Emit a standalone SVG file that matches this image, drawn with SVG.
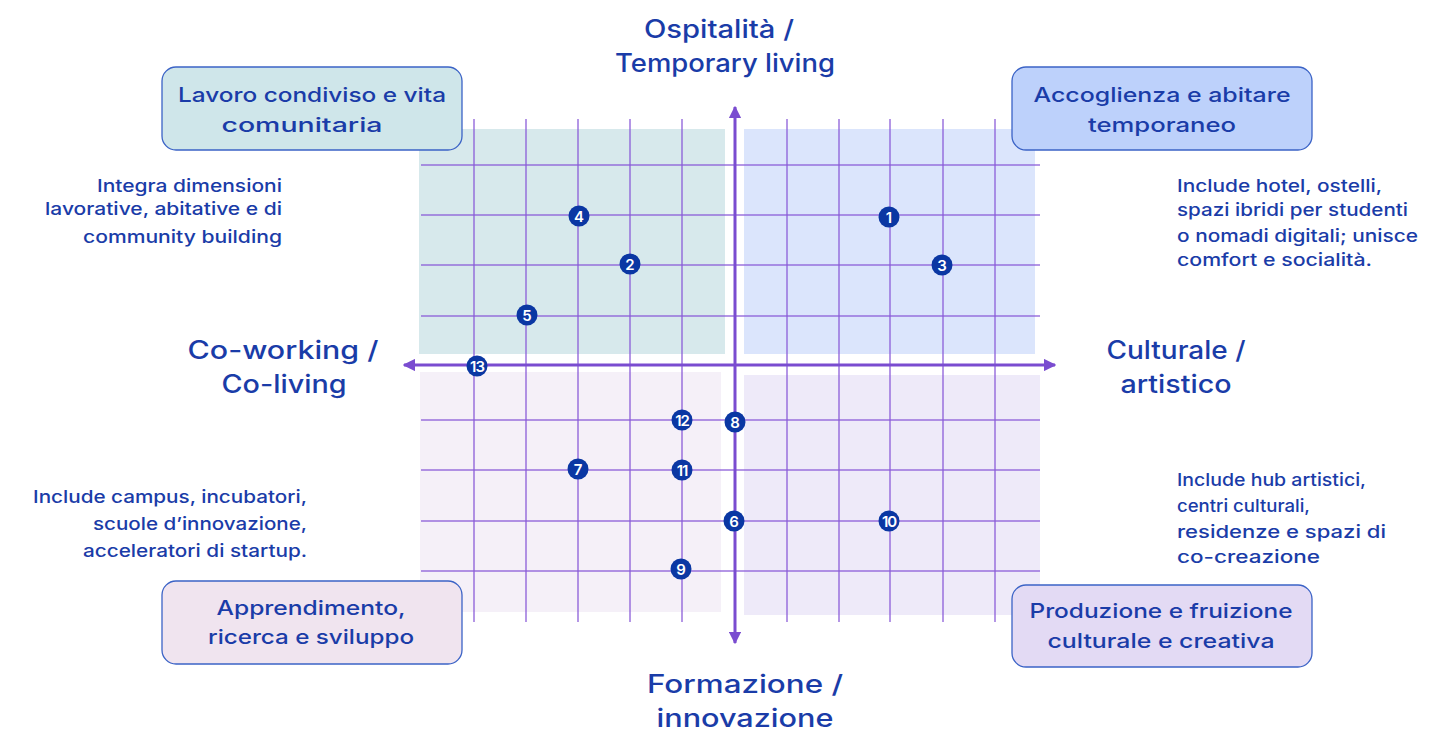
<svg xmlns="http://www.w3.org/2000/svg" width="1445" height="731" viewBox="0 0 1445 731">
  <defs>
    <style>
      text { font-family: Inter, "Noto Sans", "Liberation Sans", sans-serif; fill: #1a3ca8; font-weight: 500; }
      .axis-label { font-size: 25px; text-anchor: middle; }
      .box-label { font-size: 20px; text-anchor: middle; }
      .note { font-size: 17.5px; }
      .note-r { text-anchor: end; }
      .grid line { stroke: #8a5bd8; stroke-width: 1.5; opacity: 0.85; }
      .axis { stroke: #7a4cd0; stroke-width: 3; fill: none; }
      .box { stroke: #3b63c6; stroke-width: 1.3; }
      .dot circle { fill: #0a37a3; }
      .dot text { fill: #ffffff; font-size: 15px; text-anchor: middle; font-weight: 600; }
    </style>
    <marker id="arrow" viewBox="0 0 10 10" refX="9" refY="5" markerWidth="4.2" markerHeight="4.2" orient="auto">
      <path d="M0,0 L10,5 L0,10 z" fill="#7a4cd0"/>
    </marker>
  </defs>

  <rect width="1445" height="731" fill="#ffffff"/>

  <!-- quadrant backgrounds -->
  <g id="quadrants">
    <rect x="419" y="129" width="306" height="225" fill="#d7e9ec"/>
    <rect x="744" y="129" width="291" height="225" fill="#dbe5fc"/>
    <rect x="420" y="372" width="301" height="240" fill="#f5f0f8"/>
    <rect x="744" y="375" width="296" height="240" fill="#eeeaf9"/>
  </g>

  <!-- grid -->
  <g class="grid">
    <line x1="474" y1="119" x2="474" y2="622"/>
    <line x1="526" y1="119" x2="526" y2="622"/>
    <line x1="578" y1="119" x2="578" y2="622"/>
    <line x1="630" y1="119" x2="630" y2="622"/>
    <line x1="682" y1="119" x2="682" y2="622"/>
    <line x1="787" y1="119" x2="787" y2="622"/>
    <line x1="839" y1="119" x2="839" y2="622"/>
    <line x1="890" y1="119" x2="890" y2="622"/>
    <line x1="943" y1="119" x2="943" y2="622"/>
    <line x1="995" y1="119" x2="995" y2="622"/>
    <line x1="421" y1="165" x2="1040" y2="165"/>
    <line x1="421" y1="215" x2="1040" y2="215"/>
    <line x1="421" y1="265" x2="1040" y2="265"/>
    <line x1="421" y1="316" x2="1040" y2="316"/>
    <line x1="421" y1="420" x2="1040" y2="420"/>
    <line x1="421" y1="470" x2="1040" y2="470"/>
    <line x1="421" y1="521" x2="1040" y2="521"/>
    <line x1="421" y1="571" x2="1040" y2="571"/>
  </g>

  <!-- axes -->
  <g id="connectors">
    <line class="axis" x1="735" y1="365" x2="735" y2="107" marker-end="url(#arrow)"/>
    <line class="axis" x1="735" y1="365" x2="735" y2="643" marker-end="url(#arrow)"/>
    <line class="axis" x1="735" y1="365" x2="404" y2="365" marker-end="url(#arrow)"/>
    <line class="axis" x1="735" y1="365" x2="1055" y2="365" marker-end="url(#arrow)"/>
  </g>

  <!-- axis labels -->
  <g id="axis-top">
    <text class="axis-label" x="719" y="38" textLength="150" lengthAdjust="spacingAndGlyphs">Ospitalità /</text>
    <text class="axis-label" x="725" y="72" textLength="220" lengthAdjust="spacingAndGlyphs">Temporary living</text>
  </g>
  <g id="axis-bottom">
    <text class="axis-label" x="745" y="693" textLength="196" lengthAdjust="spacingAndGlyphs">Formazione /</text>
    <text class="axis-label" x="745" y="727" textLength="177" lengthAdjust="spacingAndGlyphs">innovazione</text>
  </g>
  <g id="axis-left">
    <text class="axis-label" x="283" y="359" textLength="191" lengthAdjust="spacingAndGlyphs">Co-working /</text>
    <text class="axis-label" x="284" y="393" textLength="125" lengthAdjust="spacingAndGlyphs">Co-living</text>
  </g>
  <g id="axis-right">
    <text class="axis-label" x="1176" y="359" textLength="139" lengthAdjust="spacingAndGlyphs">Culturale /</text>
    <text class="axis-label" x="1176" y="393" textLength="111" lengthAdjust="spacingAndGlyphs">artistico</text>
  </g>

  <!-- quadrant title boxes -->
  <g id="box-tl">
    <rect class="box" x="162" y="67" width="300" height="83" rx="14" fill="#cfe6ea"/>
    <text class="box-label" x="312" y="102" textLength="268" lengthAdjust="spacingAndGlyphs">Lavoro condiviso e vita</text>
    <text class="box-label" x="302" y="132" textLength="161" lengthAdjust="spacingAndGlyphs">comunitaria</text>
  </g>
  <g id="box-tr">
    <rect class="box" x="1012" y="67" width="300" height="83" rx="14" fill="#bdd1fb"/>
    <text class="box-label" x="1162" y="102" textLength="257" lengthAdjust="spacingAndGlyphs">Accoglienza e abitare</text>
    <text class="box-label" x="1162" y="132" textLength="148" lengthAdjust="spacingAndGlyphs">temporaneo</text>
  </g>
  <g id="box-bl">
    <rect class="box" x="162" y="581" width="300" height="83" rx="14" fill="#f0e4ef"/>
    <text class="box-label" x="311" y="615" textLength="189" lengthAdjust="spacingAndGlyphs">Apprendimento,</text>
    <text class="box-label" x="311" y="644" textLength="206" lengthAdjust="spacingAndGlyphs">ricerca e sviluppo</text>
  </g>
  <g id="box-br">
    <rect class="box" x="1012" y="585" width="300" height="82" rx="14" fill="#e3daf4"/>
    <text class="box-label" x="1161" y="618" textLength="263" lengthAdjust="spacingAndGlyphs">Produzione e fruizione</text>
    <text class="box-label" x="1161" y="648" textLength="227" lengthAdjust="spacingAndGlyphs">culturale e creativa</text>
  </g>

  <!-- descriptions -->
  <g id="note-tl">
    <text class="note note-r" x="282" y="192" textLength="185" lengthAdjust="spacingAndGlyphs">Integra dimensioni</text>
    <text class="note note-r" x="282" y="215" textLength="237" lengthAdjust="spacingAndGlyphs">lavorative, abitative e di</text>
    <text class="note note-r" x="282" y="243" textLength="199" lengthAdjust="spacingAndGlyphs">community building</text>
  </g>
  <g id="note-tr">
    <text class="note" x="1177" y="192" textLength="205" lengthAdjust="spacingAndGlyphs">Include hotel, ostelli,</text>
    <text class="note" x="1177" y="216" textLength="231" lengthAdjust="spacingAndGlyphs">spazi ibridi per studenti</text>
    <text class="note" x="1177" y="242" textLength="241" lengthAdjust="spacingAndGlyphs">o nomadi digitali; unisce</text>
    <text class="note" x="1177" y="266" textLength="195" lengthAdjust="spacingAndGlyphs">comfort e socialità.</text>
  </g>
  <g id="note-bl">
    <text class="note note-r" x="307" y="503" textLength="274" lengthAdjust="spacingAndGlyphs">Include campus, incubatori,</text>
    <text class="note note-r" x="307" y="530" textLength="214" lengthAdjust="spacingAndGlyphs">scuole d’innovazione,</text>
    <text class="note note-r" x="307" y="557" textLength="224" lengthAdjust="spacingAndGlyphs">acceleratori di startup.</text>
  </g>
  <g id="note-br">
    <text class="note" x="1177" y="486" textLength="189" lengthAdjust="spacingAndGlyphs">Include hub artistici,</text>
    <text class="note" x="1177" y="512" textLength="133" lengthAdjust="spacingAndGlyphs">centri culturali,</text>
    <text class="note" x="1177" y="538" textLength="209" lengthAdjust="spacingAndGlyphs">residenze e spazi di</text>
    <text class="note" x="1177" y="563" textLength="143" lengthAdjust="spacingAndGlyphs">co-creazione</text>
  </g>

  <!-- numbered points -->
  <g id="p1" class="dot"><circle cx="889" cy="217" r="10.5"/><text x="889" y="222.5">1</text></g>
  <g id="p2" class="dot"><circle cx="630" cy="264" r="10.5"/><text x="630" y="269.5">2</text></g>
  <g id="p3" class="dot"><circle cx="942" cy="265" r="10.5"/><text x="942" y="270.5">3</text></g>
  <g id="p4" class="dot"><circle cx="579" cy="216" r="10.5"/><text x="579" y="221.5">4</text></g>
  <g id="p5" class="dot"><circle cx="527" cy="315" r="10.5"/><text x="527" y="320.5">5</text></g>
  <g id="p6" class="dot"><circle cx="734" cy="521" r="10.5"/><text x="734" y="526.5">6</text></g>
  <g id="p7" class="dot"><circle cx="578" cy="469" r="10.5"/><text x="578" y="474.5">7</text></g>
  <g id="p8" class="dot"><circle cx="735" cy="422" r="10.5"/><text x="735" y="427.5">8</text></g>
  <g id="p9" class="dot"><circle cx="681" cy="569" r="10.5"/><text x="681" y="574.5">9</text></g>
  <g id="p10" class="dot"><circle cx="889" cy="521" r="10.5"/><text x="889" y="526.5" style="letter-spacing:-1px">10</text></g>
  <g id="p11" class="dot"><circle cx="682" cy="470" r="10.5"/><text x="682" y="475.5" style="letter-spacing:-1px">11</text></g>
  <g id="p12" class="dot"><circle cx="682" cy="420" r="10.5"/><text x="682" y="425.5" style="letter-spacing:-1px">12</text></g>
  <g id="p13" class="dot"><circle cx="477" cy="366" r="10.5"/><text x="477" y="371.5" style="letter-spacing:-1px">13</text></g>
</svg>
